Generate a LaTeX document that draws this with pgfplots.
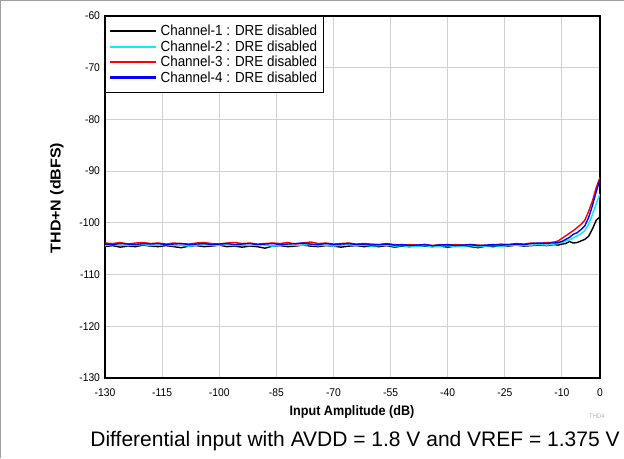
\documentclass[border=0pt]{standalone}
\usepackage{pgfplots}
\pgfplotsset{compat=1.18}
\usepackage{pgfplotstable}
\usepackage{fontspec}
\setmainfont[FakeStretch=0.92]{Liberation Sans}
\newfontfamily\plainfont{Liberation Sans}
\definecolor{gridgray}{RGB}{210,210,210}
\definecolor{cyanc}{RGB}{0,240,255}
\pgfplotstableread{
x c1 c2 c3 c4
-130 -104.6 -104.4 -103.9 -104.1
-128 -104.4 -104.2 -104.0 -104.2
-126 -104.7 -104.3 -103.8 -104.0
-124 -104.5 -104.4 -104.1 -104.1
-122 -104.6 -104.3 -103.9 -104.2
-120 -104.3 -104.2 -103.8 -104.0
-118 -104.5 -104.4 -104.0 -104.1
-116 -104.6 -104.3 -103.9 -104.0
-114 -104.4 -104.2 -104.1 -104.2
-112 -104.6 -104.4 -103.9 -104.1
-110 -104.8 -104.3 -104.0 -104.0
-108 -104.5 -104.5 -104.1 -104.2
-106 -104.4 -104.3 -103.9 -104.1
-104 -104.6 -104.2 -103.8 -104.0
-102 -104.5 -104.4 -104.0 -104.2
-100 -104.3 -104.3 -104.1 -104.1
-98 -104.6 -104.2 -103.9 -104.0
-96 -104.5 -104.4 -103.8 -104.2
-94 -104.7 -104.3 -104.0 -104.1
-92 -104.5 -104.4 -103.9 -104.0
-90 -104.6 -104.2 -104.1 -104.2
-88 -104.9 -104.3 -104.0 -104.1
-86 -104.5 -104.5 -103.9 -104.0
-84 -104.4 -104.3 -104.0 -104.2
-82 -104.6 -104.2 -103.8 -104.1
-80 -104.5 -104.4 -104.1 -104.0
-78 -104.3 -104.3 -103.9 -103.9
-76 -104.5 -104.2 -103.7 -104.1
-74 -104.6 -104.4 -104.0 -104.2
-72 -104.4 -104.3 -103.9 -104.0
-70 -104.5 -104.5 -104.1 -104.2
-68 -104.7 -104.3 -104.0 -104.1
-66 -104.5 -104.2 -103.9 -104.0
-64 -104.4 -104.4 -104.1 -104.2
-62 -104.6 -104.3 -104.0 -104.1
-60 -104.5 -104.5 -104.1 -104.3
-58 -104.6 -104.4 -104.2 -104.2
-56 -104.4 -104.3 -104.0 -104.1
-54 -104.7 -104.5 -104.2 -104.3
-52 -104.5 -104.4 -104.3 -104.2
-50 -104.6 -104.6 -104.2 -104.4
-48 -104.4 -104.5 -104.3 -104.3
-46 -104.5 -104.4 -104.2 -104.2
-44 -104.6 -104.6 -104.4 -104.4
-42 -104.5 -104.5 -104.2 -104.3
-40 -104.7 -104.4 -104.3 -104.2
-38 -104.5 -104.6 -104.2 -104.4
-36 -104.4 -104.5 -104.3 -104.3
-34 -104.6 -104.4 -104.2 -104.2
-32 -104.8 -104.6 -104.3 -104.4
-30 -104.5 -104.5 -104.4 -104.3
-28 -104.6 -104.4 -104.3 -104.2
-26 -104.4 -104.5 -104.1 -104.3
-24 -104.5 -104.4 -104.2 -104.2
-22 -104.3 -104.3 -104.0 -104.1
-20 -104.5 -104.4 -104.1 -104.2
-18 -104.4 -104.3 -103.9 -104.0
-16 -104.3 -104.2 -104.0 -103.9
-14 -104.4 -104.3 -103.8 -104.0
-13 -104.3 -104.2 -103.8 -103.9
-12 -104.2 -104.1 -103.7 -103.9
-11 -104.3 -104.0 -103.5 -103.8
-10 -104.1 -103.8 -103.0 -103.6
-9 -104.0 -103.5 -102.5 -103.2
-8 -103.6 -103.3 -102.0 -102.8
-7 -103.9 -102.9 -101.5 -102.2
-6 -103.8 -102.5 -100.9 -101.9
-5 -103.5 -102.1 -100.3 -101.3
-4 -103.2 -101.5 -99.5 -100.6
-3 -102.6 -100.3 -97.8 -99.0
-2 -101.2 -98.4 -95.8 -96.7
-1 -99.5 -96.3 -93.2 -94.0
0 -98.8 -94.4 -91.2 -91.6
}\datatable
\begin{document}
\begin{tikzpicture}
\useasboundingbox (0pt,0pt) rectangle (624pt,458pt);
\draw[gray!75, line width=1.2pt] (0.6pt,0pt) -- (0.6pt,457.4pt) -- (624pt,457.4pt);
\begin{axis}[
  at={(105pt,80pt)}, anchor=south west,
  scale only axis, width=495pt, height=362pt,
  xmin=-130, xmax=0, ymin=-130, ymax=-60,
  xtick={-130,-115,-100,-85,-70,-55,-40,-25,-10,0},
  ytick={-130,-120,-110,-100,-90,-80,-70,-60},
  grid=major,
  major grid style={gridgray, line width=1pt},
  major tick length=0pt,
  axis line style={black, line width=1.7pt},
  tick label style={font=\fontsize{11.2}{13}\selectfont},
  /pgf/number format/assume math mode=true,
  xticklabel style={yshift=-7pt},
  yticklabel style={xshift=-1.5pt},
  legend style={at={(0,1)}, anchor=north west, draw=black, line width=1.2pt,
    font=\fontsize{14.6}{15.5}\selectfont, inner xsep=4pt, inner ysep=6.5pt,
    row sep=-0.6pt,
    cells={anchor=west}},
  legend cell align=left,
  legend image code/.code={\fill[#1, draw=none] (2pt,-1.1pt) rectangle (48pt,1.1pt);},
]
\addplot[black, line width=1.4pt] table[x=x,y=c1] {\datatable};
\addlegendentry{\hspace{3pt}Channel-1 : DRE disabled}
\addplot[cyanc, line width=1.4pt] table[x=x,y=c2] {\datatable};
\addlegendentry{\hspace{3pt}Channel-2 : DRE disabled}
\addplot[red, line width=1.4pt] table[x=x,y=c3] {\datatable};
\addlegendentry{\hspace{3pt}Channel-3 : DRE disabled}
\addplot[blue, line width=1.4pt] table[x=x,y=c4] {\datatable};
\addlegendentry{\hspace{3pt}Channel-4 : DRE disabled}
\end{axis}
\node[font=\bfseries\fontsize{13.7}{15}\selectfont] at (352pt,46pt) {Input Amplitude (dB)};
\node[rotate=90, font=\plainfont\bfseries\fontsize{16}{18}\selectfont] at (57pt,260pt) {\scalebox{1}[0.9]{THD+N (dBFS)}};
\node[font=\fontsize{6.5}{7}\selectfont, text=gray!60] at (597pt,42pt) {THD4};
\node[font=\plainfont\fontsize{21}{24}\selectfont] at (355pt,17pt) {Differential input with AVDD = 1.8 V and VREF = 1.375 V};
\end{tikzpicture}
\end{document}
